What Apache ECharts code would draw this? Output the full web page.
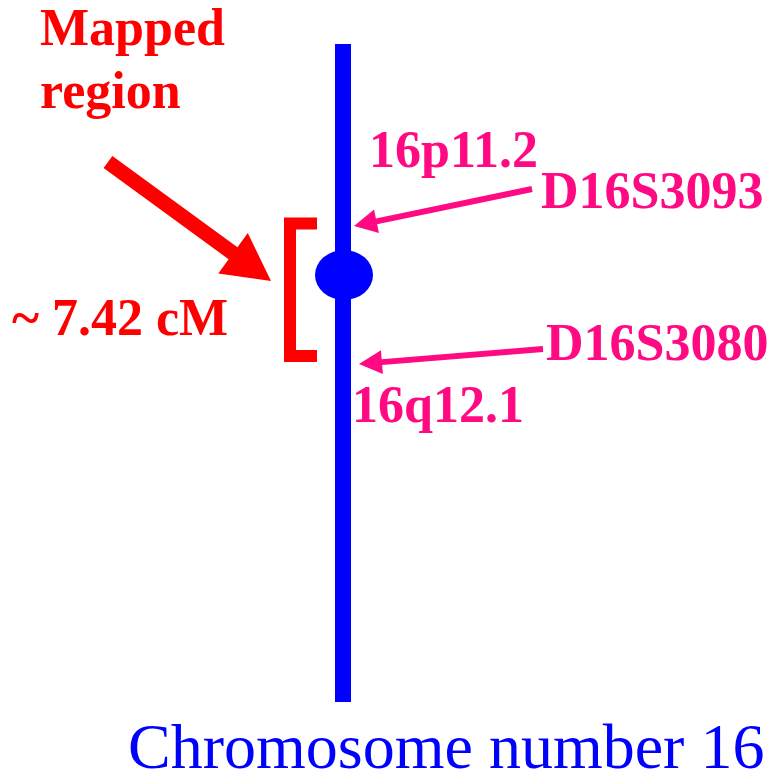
<!DOCTYPE html>
<html>
<head>
<meta charset="utf-8">
<script src="https://cdn.jsdelivr.net/npm/echarts@6/dist/echarts.min.js"></script>
<style>html,body{margin:0;padding:0;background:#fff}#c{width:777px;height:774px}</style>
</head>
<body>
<div id="c"></div>
<script>
// Diagram content (picture coordinates: x right, y down)
const chromosomeLine = [[343, 44], [343, 702]];
const centromere = [[344, 275]];
const bracketPoints = [[317, 223.5], [290, 223.5], [290, 356], [317, 356]];
const mappedArrow = [[108, 162], [271, 281]];
const markerArrows = [[[532, 189], [354, 226]], [[543, 349], [359, 364]]];
const redLabels = ['Mapped', 'region', '~ 7.42 cM'];
const redLabelPos = [[40, 45], [40, 108], [12, 335]];
const pinkLabels = ['16p11.2', 'D16S3093', 'D16S3080', '16q12.1'];
const pinkLabelPos = [[369, 167], [541, 208], [546, 360], [352, 422]];
const titleLabel = ['Chromosome number 16'];
const titlePos = [[128, 767]];

const RED = '#ff0000', BLUE = '#0000ff', PINK = '#ff0a82';

function arrowPolygon(api, tail, tip, shaftW, headL, headW) {
  const a = api.coord(tail), b = api.coord(tip);
  const dx = b[0] - a[0], dy = b[1] - a[1];
  const len = Math.sqrt(dx * dx + dy * dy);
  const ux = dx / len, uy = dy / len, nx = -uy, ny = ux;
  const bx = b[0] - ux * headL, by = b[1] - uy * headL;
  const s = shaftW / 2, h = headW / 2;
  return [
    [a[0] + nx * s, a[1] + ny * s],
    [bx + nx * s, by + ny * s],
    [bx + nx * h, by + ny * h],
    [b[0], b[1]],
    [bx - nx * h, by - ny * h],
    [bx - nx * s, by - ny * s],
    [a[0] - nx * s, a[1] - ny * s]
  ];
}

function textSeries(labels, pos, font, color, size) {
  return {
    type: 'custom', coordinateSystem: 'cartesian2d', silent: true,
    data: pos.map((p, i) => [p[0], p[1], i]),
    renderItem: function (params, api) {
      const p = api.coord([api.value(0), api.value(1)]);
      return {
        type: 'text',
        x: p[0], y: p[1] - size * 0.25,
        style: { text: labels[params.dataIndex], font: font, fill: color, textAlign: 'left', textVerticalAlign: 'middle', verticalAlign: 'middle' }
      };
    }
  };
}

const chart = echarts.init(document.getElementById('c'), null, { renderer: 'canvas' });
chart.setOption({
  animation: false,
  backgroundColor: '#ffffff',
  grid: { left: 0, right: 0, top: 0, bottom: 0 },
  xAxis: { type: 'value', min: 0, max: 777, show: false },
  yAxis: { type: 'value', min: 0, max: 774, inverse: true, show: false },
  series: [
    {
      type: 'custom', coordinateSystem: 'cartesian2d', silent: true,
      data: [[chromosomeLine[0][0], chromosomeLine[0][1], chromosomeLine[1][0], chromosomeLine[1][1]]],
      renderItem: function (params, api) {
        const a = api.coord([api.value(0), api.value(1)]), b = api.coord([api.value(2), api.value(3)]);
        return { type: 'line', shape: { x1: a[0], y1: a[1], x2: b[0], y2: b[1] }, style: { stroke: BLUE, lineWidth: 16, lineCap: 'butt' } };
      }
    },
    {
      type: 'custom', coordinateSystem: 'cartesian2d', silent: true,
      data: centromere,
      renderItem: function (params, api) {
        const c = api.coord([api.value(0), api.value(1)]);
        return { type: 'circle', x: c[0], y: c[1], scaleX: 1, scaleY: 25 / 29, shape: { cx: 0, cy: 0, r: 29 }, style: { fill: BLUE } };
      }
    },
    {
      type: 'custom', coordinateSystem: 'cartesian2d', silent: true,
      data: [[0]],
      renderItem: function (params, api) {
        return { type: 'polyline', shape: { points: bracketPoints.map(p => api.coord(p)) }, style: { stroke: RED, lineWidth: 12, fill: null, lineJoin: 'miter', lineCap: 'butt' } };
      }
    },
    {
      type: 'custom', coordinateSystem: 'cartesian2d', silent: true,
      data: [[0]],
      renderItem: function (params, api) {
        return { type: 'polygon', shape: { points: arrowPolygon(api, mappedArrow[0], mappedArrow[1], 15, 47, 50) }, style: { fill: RED } };
      }
    },
    {
      type: 'custom', coordinateSystem: 'cartesian2d', silent: true,
      data: markerArrows.map((a, i) => [i]),
      renderItem: function (params, api) {
        const a = markerArrows[params.dataIndex];
        return { type: 'polygon', shape: { points: arrowPolygon(api, a[0], a[1], 6, 23, 24) }, style: { fill: PINK } };
      }
    },
    textSeries(redLabels, redLabelPos, 'bold 52px "Liberation Serif"', RED, 52),
    textSeries(pinkLabels, pinkLabelPos, 'bold 52px "Liberation Serif"', PINK, 52),
    textSeries(titleLabel, titlePos, '64px "Liberation Serif"', BLUE, 64)
  ]
});
</script>
</body>
</html>
